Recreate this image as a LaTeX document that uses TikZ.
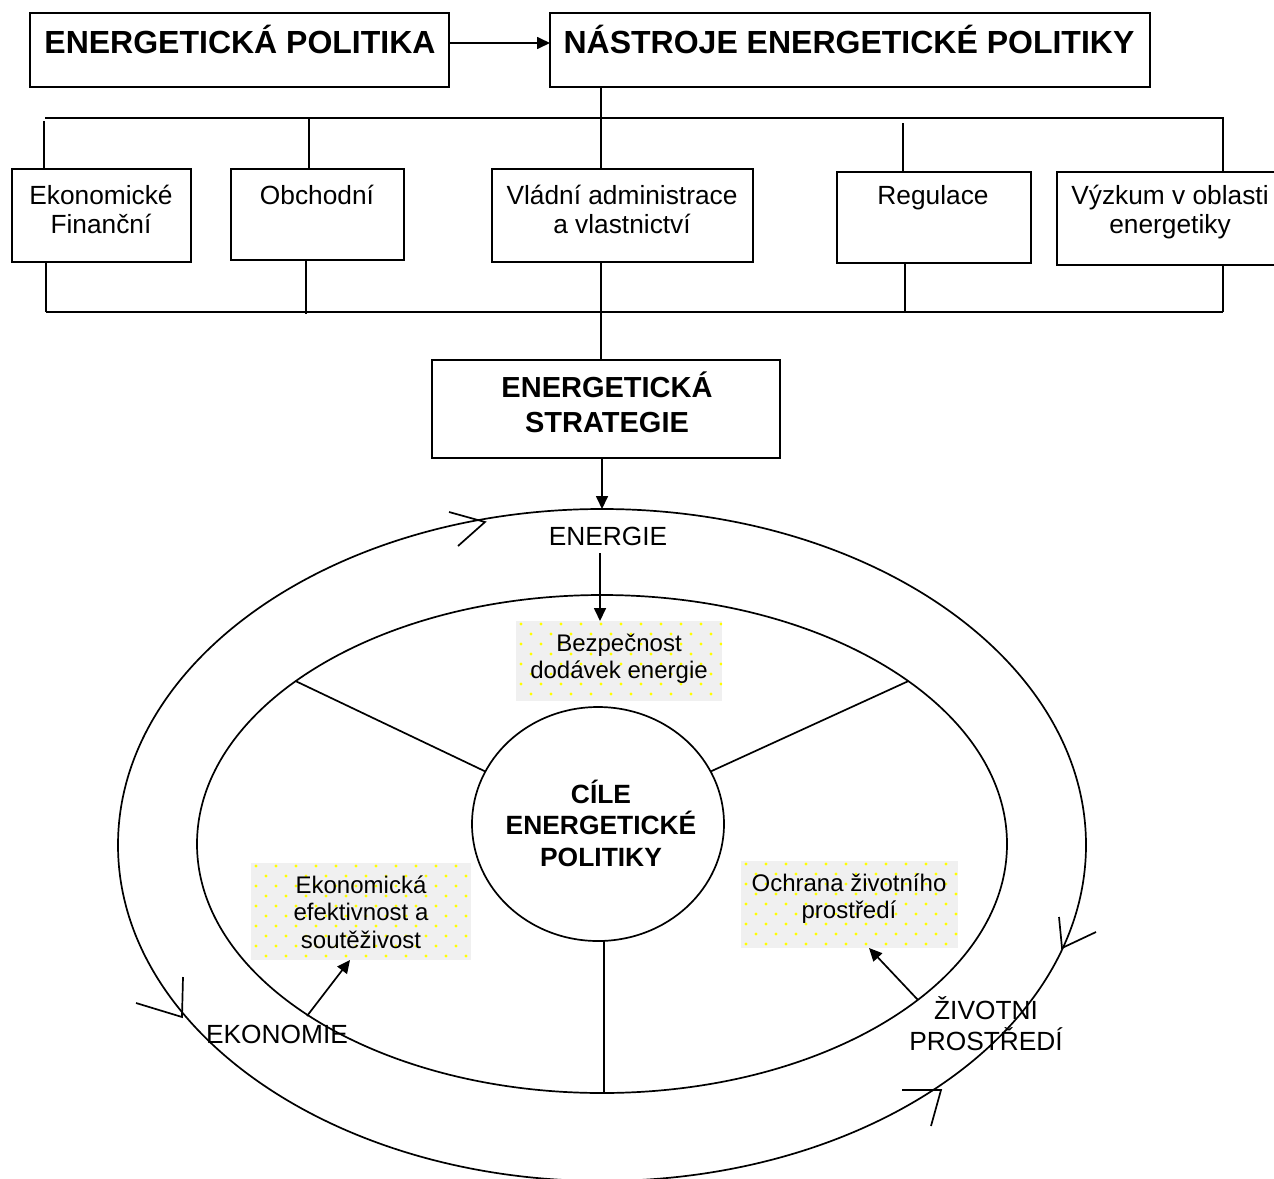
\documentclass[tikz,border=0pt]{standalone}
\usepackage{fontspec}
\setmainfont{Liberation Sans}
\usetikzlibrary{arrows.meta,shapes.geometric}
\definecolor{dotbg}{HTML}{F0F0F0}
\definecolor{dotfg}{HTML}{FFFF00}
\begin{document}
\begin{tikzpicture}[x=1pt,y=-1pt,line width=1.7pt,
  frame/.style={draw, rectangle, inner sep=0pt, outer sep=0pt},
  oval/.style={draw, ellipse, inner sep=0pt, outer sep=0pt},
  arr/.style={-{Triangle[length=13pt,width=12pt]}},
  ntxt/.style={align=center, inner sep=0pt, anchor=base, font=\fontsize{26.3}{29}\selectfont},
  stxt/.style={align=center, inner sep=0pt, anchor=base, font=\fontsize{24}{26.5}\selectfont},
  ttl/.style={inner sep=0pt, anchor=base, font=\bfseries\fontsize{32}{36}\selectfont},
  strat/.style={align=center, inner sep=0pt, anchor=base, font=\bfseries\fontsize{29}{35}\selectfont},
  goal/.style={align=center, inner sep=0pt, anchor=base, font=\bfseries\fontsize{26.4}{31.5}\selectfont},
  dotbox/.style={fill=dotbg, inner sep=0pt, outer sep=0pt, path picture={
    \foreach \i in {0,2,...,10}{\foreach \j in {0,...,11}{
      \fill[dotfg] (path picture bounding box.north west) ++({\j*20+5},{\i*10+3}) circle (1.6pt);}}
    \foreach \i in {1,3,...,9}{\foreach \j in {0,...,11}{
      \fill[dotfg] (path picture bounding box.north west) ++({\j*20+15},{\i*10+3}) circle (1.6pt);}}
  }}
]
\clip (0,0) rectangle (1274,1178);

% top boxes
\node[frame, minimum width=419pt, minimum height=74pt] (A) at (239.5,50) {};
\node[frame, minimum width=600pt, minimum height=74pt] (B) at (850,50) {};
\node[ttl] (tA) at (240,53) {ENERGETICKÁ POLITIKA};
\node[ttl] (tB) at (849,53) {NÁSTROJE ENERGETICKÉ POLITIKY};
\draw[arr] (A.east |- 0,43) -- (B.west |- 0,43);

% instrument boxes
\node[frame, minimum width=179pt, minimum height=93pt] (b1) at (101.5,215.5) {};
\node[frame, minimum width=173pt, minimum height=91pt] (b2) at (317.5,214.5) {};
\node[frame, minimum width=261pt, minimum height=93pt] (b3) at (622.5,215.5) {};
\node[frame, minimum width=194pt, minimum height=91pt] (b4) at (934,217.5) {};
\node[frame, minimum width=226pt, minimum height=93pt] (b5) at (1170,218.5) {};
\node[ntxt] (t1) at (101,233) {Ekonomické\\Finanční};
\node[ntxt] (t2) at (317,204) {Obchodní};
\node[ntxt] (t3) at (622,233) {Vládní administrace\\a vlastnictví};
\node[ntxt] (t4) at (933,204) {Regulace};
\node[ntxt] (t5) at (1170,233) {Výzkum v oblasti\\energetiky};

% upper bus
\coordinate (tL) at (45,118);
\coordinate (tR) at (1224,118);
\coordinate (j1) at (44,121);
\coordinate (j2) at (309,118);
\coordinate (j4) at (903,123);
\coordinate (j5) at (1223,118);
\coordinate (cx) at (601,118);
\draw (tL) -- (tR);
\draw (B.south -| cx) -- (b3.north -| cx);
\draw (j1) -- (j1 |- b1.north);
\draw (j2) -- (j2 |- b2.north);
\draw (j4) -- (j4 |- b4.north);
\draw (j5) -- (j5 |- b5.north);

% strategy box
\node[frame, minimum width=348pt, minimum height=98pt] (C) at (606,409) {};
\node[strat] (tC) at (607,432) {ENERGETICKÁ\\STRATEGIE};

% lower bus
\coordinate (kL) at (46,312);
\coordinate (kR) at (1223,312);
\coordinate (k1) at (46,312);
\coordinate (k2) at (306,314);
\coordinate (k4) at (905,312);
\coordinate (k5) at (1223,312);
\coordinate (kc) at (601,312);
\draw (kL) -- (kR);
\draw (b1.south -| k1) -- (k1);
\draw (b2.south -| k2) -- (k2);
\draw (b4.south -| k4) -- (k4);
\draw (b5.south -| k5) -- (k5);
\draw (b3.south -| kc) -- (C.north -| kc);

% ellipses
\node[oval, minimum width=968pt, minimum height=672pt] (outer) at (602,845) {};
\node[oval, minimum width=810pt, minimum height=498pt] (inner) at (602,844) {};
\node[oval, minimum width=252pt, minimum height=234pt] (goals) at (598,824) {};
\node[goal] (tG) at (601,866) {CÍLE\\ENERGETICKÉ\\POLITIKY};

% spokes
\coordinate (gS) at (goals.-87);
\draw (goals.155) -- (inner.152);
\draw (goals.25) -- (inner.28);
\draw (gS) -- (gS |- inner.south);

% dotted boxes
\node[dotbox, minimum width=206pt, minimum height=80pt] (bez) at (619,661) {};
\node[dotbox, minimum width=220pt, minimum height=97pt] (eko) at (361,911.5) {};
\node[dotbox, minimum width=217pt, minimum height=87pt] (och) at (849.5,904.5) {};
\node[stxt] (tbez) at (619,678) {Bezpečnost\\dodávek energie};
\node[stxt, font=\fontsize{24}{27.3}\selectfont] (teko) at (361,948) {Ekonomická\\efektivnost a\\soutěživost};
\node[stxt] (toch) at (849,918) {Ochrana životního\\prostředí};

% labels
\node[ntxt] (en) at (608,545) {ENERGIE};
\node[ntxt] (ek) at (277,1043) {EKONOMIE};
\node[ntxt, font=\fontsize{26.3}{31}\selectfont] (zp) at (986,1050) {ŽIVOTNI\\PROSTŘEDÍ};

% arrows
\draw[arr] (C.south -| outer.north) -- (outer.north);
\coordinate (eS) at (600,553);
\draw[arr] (eS) -- (eS |- bez.north);
\coordinate (ekS) at (307,1016);
\draw[arr] (ekS) -- (eko.south -| 350,0);
\coordinate (zS) at (918,1000);
\draw[arr] (zS) -- (och.south -| 869,0);

% direction marks on the outer ring
\draw (449,512) -- (485,522) -- (458,546);
\draw (136,1003) -- (182,1017) -- (183,977);
\draw (1059,917) -- (1062,948) -- (1096,932);
\draw (902,1090) -- (941,1090) -- (931,1126);
\end{tikzpicture}
\end{document}
